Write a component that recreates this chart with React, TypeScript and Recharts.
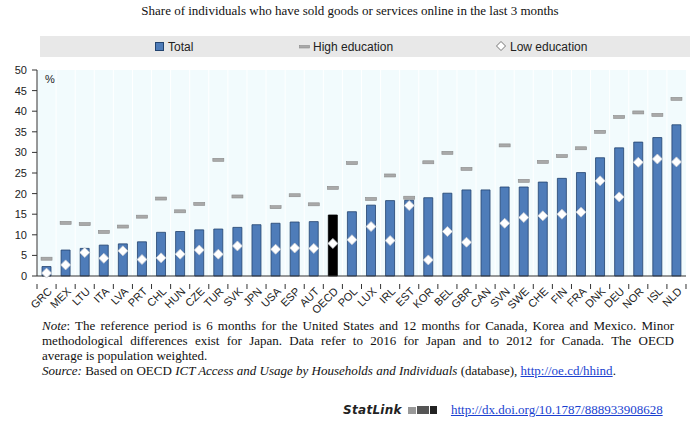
import {
  ComposedChart,
  Bar,
  Line,
  XAxis,
  YAxis,
  CartesianGrid,
  Cell,
} from "recharts";

const countries = [
  "GRC", "MEX", "LTU", "ITA", "LVA", "PRT", "CHL", "HUN", "CZE", "TUR", "SVK", "JPN",
  "USA", "ESP", "AUT", "OECD", "POL", "LUX", "IRL", "EST", "KOR", "BEL", "GBR", "CAN",
  "SVN", "SWE", "CHE", "FIN", "FRA", "DNK", "DEU", "NOR", "ISL", "NLD",
];

const totalValues = [
  2.3, 6.3, 6.7, 7.5, 7.8, 8.3, 10.6, 10.8, 11.2, 11.4, 11.8, 12.45,
  12.8, 13.1, 13.2, 14.8, 15.6, 17.2, 18.3, 18.4, 19.0, 20.1, 20.9, 20.9,
  21.6, 21.6, 22.8, 23.7, 25.1, 28.7, 31.1, 32.5, 33.6, 36.7,
];

const highEducation = [
  4.2, 12.9, 12.6, 10.7, 12.0, 14.4, 18.8, 15.7, 17.5, 28.2, 19.3, null,
  16.7, 19.6, 17.4, 21.4, 27.4, 18.7, 24.4, 19.0, 27.6, 29.9, 26.0, null,
  31.7, 23.1, 27.7, 29.1, 31.0, 35.0, 38.6, 39.7, 39.1, 43.0,
];

const lowEducation = [
  0.7, 2.7, 5.7, 4.3, 6.1, 4.0, 4.4, 5.3, 6.3, 5.3, 7.3, null,
  6.5, 6.8, 6.7, 7.9, 8.8, 12.0, 8.6, 17.1, 3.9, 10.8, 8.2, null,
  12.8, 14.2, 14.6, 15.0, 15.5, 23.1, 19.2, 27.6, 28.4, 27.7,
];

const yTicks = [0, 5, 10, 15, 20, 25, 30, 35, 40, 45, 50];

const data = countries.map((country, i) => ({
  country,
  total: totalValues[i],
  high: highEducation[i],
  low: lowEducation[i],
}));

const CHART_W = 700;
const CHART_H = 318;
const MARGIN = { top: 70, right: 14, bottom: 0, left: 0 };
const Y_AXIS_W = 37;
const PLOT_W = CHART_W - MARGIN.left - MARGIN.right - Y_AXIS_W;
const BAND = PLOT_W / countries.length;

const BAR_BLUE = "#4e7cb9";
const SANS = "'Liberation Sans', Arial, sans-serif";
const SERIF = "'Liberation Serif', 'Times New Roman', serif";

function CountryTick(props: any) {
  const { x, y, payload, index } = props;
  const half = BAND / 2;
  const isLast = index === countries.length - 1;
  return (
    <g transform={`translate(${x},${y})`}>
      <line x1={-half} y1={0} x2={-half} y2={5} stroke="#333" />
      {isLast && <line x1={half} y1={0} x2={half} y2={5} stroke="#333" />}
      <text
        transform="translate(4,6) rotate(-45)"
        textAnchor="end"
        dominantBaseline="middle"
        fontSize={11}
        fontFamily={SANS}
        fill="#222"
      >
        {payload.value}
      </text>
    </g>
  );
}

function HighDash(props: any) {
  const { cx, cy, index } = props;
  if (cy == null || props.value == null) return <g key={`h-${index}`} />;
  return (
    <rect
      key={`h-${index}`}
      x={cx - 5.5}
      y={cy - 1.5}
      width={11}
      height={3}
      fill="#a9a9a9"
      stroke="#8a8a8a"
      strokeWidth={0.6}
    />
  );
}

function LowDiamond(props: any) {
  const { cx, cy, index } = props;
  if (cy == null || props.value == null) return <g key={`l-${index}`} />;
  const r = 5;
  return (
    <path
      key={`l-${index}`}
      d={`M${cx},${cy - r} L${cx + r},${cy} L${cx},${cy + r} L${cx - r},${cy} Z`}
      fill="#ffffff"
      stroke="#c8ccd2"
      strokeWidth={0.8}
    />
  );
}

function LegendBand() {
  const item = { position: "absolute" as const, top: 0, height: 21, display: "flex", alignItems: "center", fontSize: 12, fontFamily: SANS, color: "#222" };
  return (
    <div style={{ position: "absolute", left: 40, top: 36, width: 650, height: 21, background: "#e8e8e8" }}>
      <div style={{ ...item, left: 115 }}>
        <svg width={10} height={10} style={{ marginRight: 3 }}>
          <rect x={0.5} y={0.5} width={8} height={8} fill={BAR_BLUE} stroke="#22436f" />
        </svg>
        Total
      </div>
      <div style={{ ...item, left: 259 }}>
        <svg width={12} height={10} style={{ marginRight: 2 }}>
          <rect x={0.5} y={3.5} width={10} height={2.5} fill="#a9a9a9" stroke="#8a8a8a" strokeWidth={0.6} />
        </svg>
        High education
      </div>
      <div style={{ ...item, left: 456 }}>
        <svg width={11} height={11} style={{ marginRight: 3 }}>
          <path d="M5,0.5 L9.5,5 L5,9.5 L0.5,5 Z" fill="#fff" stroke="#555" strokeWidth={0.8} />
        </svg>
        Low education
      </div>
    </div>
  );
}

export default function App() {
  return (
    <div style={{ position: "absolute", left: 0, top: 0, width: 700, height: 424, background: "#fff", overflow: "hidden" }}>
      <div style={{ position: "absolute", left: 0, top: 3, width: 700, textAlign: "center", fontFamily: SERIF, fontSize: 13, color: "#111" }}>
        Share of individuals who have sold goods or services online in the last 3 months
      </div>
      <LegendBand />
      <div style={{ position: "absolute", left: 0, top: 0 }}>
        <ComposedChart width={CHART_W} height={CHART_H} data={data} margin={MARGIN}>
          <CartesianGrid
            fill="#f2fbfd"
            horizontal={false}
            stroke="#ffffff"
            verticalCoordinatesGenerator={({ offset }: any) =>
              countries.map((_, i) => offset.left + i * (offset.width / countries.length))
            }
          />
          <XAxis
            dataKey="country"
            interval={0}
            tickLine={false}
            axisLine={{ stroke: "#333" }}
            height={42}
            tick={<CountryTick />}
          />
          <XAxis xAxisId="top" dataKey="country" orientation="top" height={0} tick={false} tickLine={false} axisLine={{ stroke: "#555", strokeWidth: 2 }} />
          <YAxis
            domain={[0, 50]}
            ticks={yTicks}
            width={Y_AXIS_W}
            tickSize={5}
            tickMargin={5}
            tick={{ fontSize: 11, fontFamily: SANS, fill: "#222" }}
            tickLine={{ stroke: "#333" }}
            axisLine={{ stroke: "#333" }}
          />
          <YAxis yAxisId="r" orientation="right" domain={[0, 50]} width={0} tick={false} tickLine={false} axisLine={{ stroke: "#555", strokeWidth: 2 }} />
          <Bar dataKey="total" barSize={9} stroke="#22436f" strokeWidth={0.8} isAnimationActive={false}>
            {data.map((d, i) => (
              <Cell key={`c-${i}`} fill={d.country === "OECD" ? "#000000" : BAR_BLUE} stroke={d.country === "OECD" ? "#000" : "#22436f"} />
            ))}
          </Bar>
          <Line dataKey="high" stroke="none" dot={HighDash} activeDot={false} isAnimationActive={false} connectNulls={false} />
          <Line dataKey="low" stroke="none" dot={LowDiamond} activeDot={false} isAnimationActive={false} connectNulls={false} />
        </ComposedChart>
      </div>
      <div style={{ position: "absolute", left: 45, top: 73, fontFamily: SANS, fontSize: 11, color: "#222" }}>%</div>
      <div style={{ position: "absolute", left: 42, top: 318, width: 632, fontFamily: SERIF, fontSize: 13, lineHeight: "15px", color: "#111" }}>
        <div style={{ textAlign: "justify", textAlignLast: "justify" }}>
          <i>Note</i>: The reference period is 6 months for the United States and 12 months for Canada, Korea and Mexico. Minor
        </div>
        <div style={{ textAlign: "justify", textAlignLast: "justify" }}>
          methodological differences exist for Japan. Data refer to 2016 for Japan and to 2012 for Canada. The OECD
        </div>
        <div>average is population weighted.</div>
        <div>
          <i>Source:</i> Based on OECD <i>ICT Access and Usage by Households and Individuals</i> (database),{" "}
          <span style={{ color: "#1a3fd0", textDecoration: "underline" }}>http://oe.cd/hhind</span>.
        </div>
      </div>
      <div style={{ position: "absolute", left: 343, top: 402, display: "flex", alignItems: "center" }}>
        <span style={{ fontFamily: "'DejaVu Sans', sans-serif", fontWeight: "bold", fontStyle: "italic", fontSize: 12, color: "#222", letterSpacing: 0.3 }}>StatLink</span>
        <svg width={30} height={10} style={{ marginLeft: 6, marginRight: 13 }}>
          <rect x={0} y={2} width={8} height={7} fill="#999" />
          <rect x={9} y={1} width={12} height={8} fill="#555" />
          <rect x={22} y={1} width={7} height={8} fill="#222" />
        </svg>
        <span style={{ fontFamily: SERIF, fontSize: 13, color: "#1a3fd0", textDecoration: "underline" }}>http://dx.doi.org/10.1787/888933908628</span>
      </div>
    </div>
  );
}
